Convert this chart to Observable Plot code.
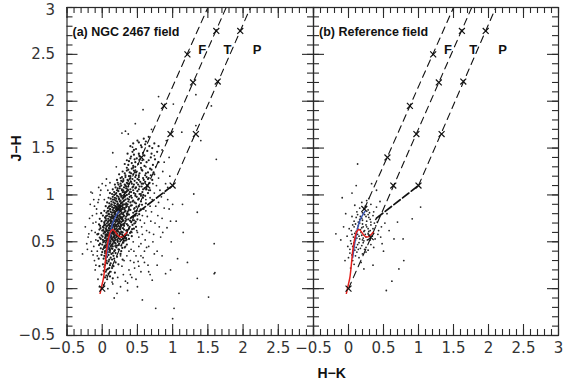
<!DOCTYPE html>
<html><head><meta charset="utf-8">
<script src="https://cdn.jsdelivr.net/npm/d3@7"></script>
<script src="https://cdn.jsdelivr.net/npm/@observablehq/plot@0.6"></script>
<style>
body{margin:0;background:#fff;}
#wrap{position:relative;width:564px;height:390px;overflow:hidden;background:#fff;}
#wrap svg{position:absolute;top:0;}
</style></head><body><div id="wrap"></div>
<script>
// ---------- data (H-K, J-H) ----------
const leftCore = [
[0.04,0.12],[0.09,0.16],[0.02,0.19],[0.12,0.18],[0.06,0.14],[0.15,0.11],[0.07,0.10],[0.11,0.13],[0.18,0.17],[-0.01,0.15],[0.05,0.18],
[0.03,0.23],[0.08,0.21],[0.11,0.25],[0.05,0.28],[0.14,0.22],[0.01,0.26],[0.09,0.29],[0.16,0.24],[0.06,0.20],[0.19,0.28],[0.04,0.25],[0.12,0.27],[-0.04,0.24],[0.10,0.22],[0.23,0.26],[0.07,0.27],
[0.02,0.32],[0.07,0.34],[0.10,0.31],[0.13,0.37],[0.04,0.38],[0.16,0.35],[0.08,0.39],[-0.01,0.36],[0.12,0.33],[0.19,0.38],[0.03,0.35],[0.09,0.36],[0.14,0.31],[0.06,0.30],[0.21,0.34],[-0.05,0.32],[0.11,0.39],[0.17,0.32],[0.26,0.37],[0.00,0.39],[0.15,0.38],[0.05,0.33],[0.29,0.31],
[0.01,0.42],[0.06,0.41],[0.09,0.44],[0.13,0.43],[0.17,0.40],[0.03,0.45],[0.08,0.42],[0.20,0.44],[0.11,0.41],[-0.02,0.43],[0.23,0.42],[0.15,0.45],[0.05,0.44],[0.27,0.40],[0.10,0.43],[0.18,0.41],[0.04,0.40],[0.12,0.45],[0.32,0.44],
[0.00,0.47],[0.05,0.49],[0.07,0.46],[0.11,0.48],[0.14,0.47],[0.18,0.49],[0.21,0.46],[0.24,0.48],[0.02,0.50],[0.06,0.47],[0.09,0.49],[0.13,0.46],[0.16,0.50],[0.19,0.48],[0.27,0.46],[-0.03,0.48],[0.08,0.45],[0.12,0.50],[0.15,0.48],[0.30,0.49],[0.04,0.46],[0.22,0.50],[0.10,0.47],[0.35,0.47],
[0.01,0.52],[0.04,0.54],[0.06,0.51],[0.10,0.53],[0.12,0.55],[0.15,0.52],[0.18,0.54],[0.22,0.51],[0.25,0.53],[0.28,0.55],[-0.02,0.53],[0.05,0.55],[0.08,0.52],[0.11,0.51],[0.14,0.54],[0.17,0.51],[0.20,0.55],[0.23,0.54],[0.31,0.51],[0.34,0.54],[0.03,0.51],[0.09,0.55],[0.13,0.53],[0.16,0.55],[0.07,0.53],[0.19,0.52],[0.27,0.52],[0.38,0.53],[-0.06,0.51],
[-0.01,0.57],[0.02,0.59],[0.05,0.56],[0.08,0.58],[0.11,0.57],[0.14,0.59],[0.17,0.56],[0.20,0.58],[0.24,0.57],[0.26,0.59],[0.30,0.56],[0.33,0.58],[0.37,0.57],[0.04,0.60],[0.07,0.57],[0.10,0.59],[0.13,0.56],[0.16,0.58],[0.19,0.60],[0.22,0.56],[0.25,0.58],[0.28,0.60],[0.12,0.58],[0.09,0.56],[0.18,0.57],[0.15,0.60],[0.06,0.58],[0.21,0.59],[0.35,0.60],[0.42,0.56],[-0.07,0.58],
[0.00,0.62],[0.03,0.61],[0.06,0.63],[0.09,0.62],[0.12,0.64],[0.15,0.61],[0.18,0.63],[0.21,0.62],[0.24,0.64],[0.27,0.61],[0.31,0.63],[0.34,0.62],[0.38,0.64],[0.41,0.61],[0.02,0.65],[0.05,0.64],[0.08,0.60],[0.11,0.62],[0.14,0.65],[0.17,0.60],[0.20,0.64],[0.23,0.61],[0.26,0.65],[0.29,0.60],[0.13,0.63],[0.16,0.62],[0.19,0.61],[0.10,0.64],[0.22,0.63],[0.07,0.62],[-0.04,0.63],[0.45,0.64],
[0.01,0.66],[0.04,0.68],[0.07,0.67],[0.10,0.69],[0.13,0.66],[0.16,0.68],[0.19,0.67],[0.22,0.69],[0.25,0.66],[0.28,0.68],[0.31,0.67],[0.35,0.69],[0.39,0.66],[0.43,0.68],[0.03,0.70],[0.06,0.66],[0.09,0.68],[0.12,0.70],[0.15,0.67],[0.18,0.69],[0.21,0.66],[0.24,0.70],[0.27,0.67],[0.30,0.69],[0.14,0.68],[0.17,0.66],[0.20,0.68],[0.23,0.67],[0.11,0.67],[0.26,0.69],[-0.03,0.67],[0.48,0.66],
[0.03,0.71],[0.06,0.73],[0.09,0.72],[0.12,0.74],[0.15,0.71],[0.18,0.73],[0.21,0.72],[0.24,0.74],[0.27,0.71],[0.30,0.73],[0.33,0.72],[0.37,0.74],[0.41,0.71],[0.45,0.73],[0.05,0.75],[0.08,0.71],[0.11,0.73],[0.14,0.75],[0.17,0.72],[0.20,0.74],[0.23,0.71],[0.26,0.75],[0.29,0.72],[0.32,0.70],[0.16,0.73],[0.19,0.71],[0.22,0.73],[0.25,0.72],[0.13,0.72],[0.28,0.74],[-0.01,0.72],[0.50,0.74],
[0.04,0.76],[0.07,0.78],[0.10,0.77],[0.13,0.79],[0.16,0.76],[0.19,0.78],[0.22,0.77],[0.25,0.79],[0.28,0.76],[0.31,0.78],[0.34,0.77],[0.38,0.79],[0.42,0.76],[0.47,0.78],[0.09,0.80],[0.12,0.76],[0.15,0.78],[0.18,0.80],[0.21,0.76],[0.24,0.78],[0.27,0.80],[0.30,0.77],[0.33,0.75],[0.20,0.79],[0.23,0.75],[0.17,0.77],[0.26,0.77],[0.14,0.77],[0.01,0.78],[0.36,0.80],
[0.06,0.81],[0.09,0.83],[0.12,0.82],[0.15,0.84],[0.18,0.81],[0.21,0.83],[0.24,0.82],[0.27,0.84],[0.30,0.81],[0.33,0.83],[0.36,0.82],[0.40,0.84],[0.44,0.81],[0.49,0.83],[0.11,0.85],[0.14,0.81],[0.17,0.83],[0.20,0.85],[0.23,0.81],[0.26,0.83],[0.29,0.85],[0.32,0.82],[0.35,0.80],[0.19,0.82],[0.25,0.84],[0.22,0.84],[0.03,0.83],[0.38,0.85],
[0.08,0.86],[0.11,0.88],[0.14,0.87],[0.17,0.89],[0.20,0.86],[0.23,0.88],[0.26,0.87],[0.29,0.89],[0.32,0.86],[0.35,0.88],[0.38,0.87],[0.42,0.89],[0.46,0.86],[0.13,0.90],[0.16,0.86],[0.19,0.88],[0.22,0.90],[0.25,0.86],[0.28,0.88],[0.31,0.90],[0.34,0.87],[0.24,0.89],[0.27,0.85],[0.21,0.87],[0.05,0.88],[0.52,0.88],
[0.10,0.91],[0.13,0.93],[0.16,0.92],[0.19,0.94],[0.22,0.91],[0.25,0.93],[0.28,0.92],[0.31,0.94],[0.34,0.91],[0.37,0.93],[0.40,0.92],[0.44,0.94],[0.15,0.95],[0.18,0.91],[0.21,0.93],[0.24,0.95],[0.27,0.91],[0.30,0.93],[0.33,0.95],[0.36,0.90],[0.26,0.94],[0.29,0.90],[0.07,0.92],[0.48,0.91],
[0.12,0.96],[0.15,0.98],[0.18,0.97],[0.21,0.99],[0.24,0.96],[0.27,0.98],[0.30,0.97],[0.33,0.99],[0.36,0.96],[0.39,0.98],[0.42,0.97],[0.47,0.99],[0.17,1.00],[0.20,0.96],[0.23,0.98],[0.26,1.00],[0.29,0.96],[0.32,0.98],[0.35,1.00],[0.28,0.99],[0.09,0.97],[0.52,0.96],
[0.14,1.01],[0.17,1.03],[0.20,1.02],[0.23,1.04],[0.26,1.01],[0.29,1.03],[0.32,1.02],[0.35,1.04],[0.38,1.01],[0.41,1.03],[0.45,1.02],[0.50,1.04],[0.22,1.05],[0.25,1.01],[0.28,1.05],[0.31,1.00],[0.34,1.03],[0.37,1.05],[0.11,1.02],[0.55,1.01],
[0.15,1.06],[0.19,1.08],[0.22,1.07],[0.25,1.09],[0.28,1.06],[0.31,1.08],[0.34,1.07],[0.37,1.09],[0.40,1.06],[0.43,1.08],[0.47,1.07],[0.53,1.09],[0.27,1.10],[0.30,1.05],[0.33,1.10],[0.36,1.06],[0.58,1.06],
[0.18,1.11],[0.22,1.13],[0.26,1.12],[0.29,1.14],[0.32,1.11],[0.35,1.13],[0.38,1.12],[0.41,1.14],[0.45,1.11],[0.49,1.13],[0.56,1.12],[0.30,1.15],[0.37,1.15],[0.61,1.14],
[0.21,1.16],[0.26,1.18],[0.30,1.17],[0.33,1.19],[0.36,1.16],[0.40,1.18],[0.43,1.17],[0.47,1.19],[0.52,1.16],[0.58,1.18],[0.38,1.20],[0.65,1.17],
[0.24,1.22],[0.29,1.25],[0.33,1.21],[0.37,1.27],[0.41,1.23],[0.44,1.29],[0.48,1.24],[0.52,1.21],[0.56,1.27],[0.62,1.23],[0.35,1.29],[0.45,1.26],[0.68,1.28],[0.39,1.24],[0.74,1.22],
[0.32,1.33],[0.38,1.36],[0.44,1.31],[0.49,1.39],[0.55,1.34],[0.60,1.42],[0.41,1.41],[0.52,1.44],[0.66,1.37],[0.72,1.32],[0.47,1.35],[0.36,1.44],[0.80,1.35],
[0.45,1.48],[0.55,1.53],[0.62,1.57],[0.71,1.50],[0.50,1.58],[0.78,1.46],[0.40,1.52]
];
const leftCoreFill = [
[0.025,0.435],[0.065,0.455],[0.105,0.415],[0.145,0.425],[0.185,0.455],[0.235,0.465],[0.285,0.435],[-0.045,0.465],
[0.015,0.495],[0.055,0.515],[0.095,0.505],[0.135,0.525],[0.175,0.535],[0.215,0.525],[0.255,0.505],[0.295,0.535],[0.335,0.515],[-0.035,0.545],
[0.005,0.555],[0.045,0.575],[0.085,0.565],[0.125,0.595],[0.165,0.585],[0.205,0.565],[0.245,0.595],[0.285,0.575],[0.325,0.565],[0.395,0.595],[-0.055,0.585],
[0.015,0.625],[0.055,0.615],[0.095,0.645],[0.135,0.635],[0.175,0.645],[0.215,0.615],[0.255,0.635],[0.295,0.645],[0.355,0.625],[0.425,0.635],[-0.025,0.645],
[0.025,0.675],[0.065,0.695],[0.105,0.665],[0.145,0.695],[0.185,0.675],[0.225,0.695],[0.265,0.675],[0.305,0.685],[0.365,0.675],[0.455,0.695],[-0.045,0.685],
[0.045,0.725],[0.085,0.745],[0.125,0.715],[0.165,0.745],[0.205,0.735],[0.245,0.715],[0.285,0.745],[0.345,0.735],[0.395,0.725],[0.475,0.715],[-0.035,0.745],
[0.055,0.775],[0.095,0.795],[0.135,0.765],[0.175,0.795],[0.215,0.785],[0.255,0.765],[0.295,0.795],[0.355,0.785],[0.445,0.775],[0.525,0.795],[-0.015,0.805],
[0.075,0.825],[0.115,0.845],[0.155,0.815],[0.195,0.845],[0.235,0.835],[0.275,0.815],[0.315,0.845],[0.375,0.835],[0.465,0.825],[0.545,0.845],
[0.095,0.875],[0.135,0.895],[0.175,0.865],[0.215,0.895],[0.255,0.885],[0.295,0.865],[0.335,0.895],[0.405,0.885],[0.485,0.875],[0.565,0.895],
[0.46,0.92],[0.51,0.95],[0.55,0.93],[0.58,0.97],[0.62,0.91],[0.49,0.98],[0.53,1.01],[0.57,1.03],[0.61,0.99],[0.65,1.02],[0.44,1.05],[0.48,1.08],[0.52,1.06],[0.56,1.09],[0.60,1.07],[0.64,1.10],[0.68,1.05],[0.42,1.12],[0.46,1.15],[0.50,1.17],[0.54,1.14],[0.59,1.16],[0.63,1.19],[0.67,1.13],[0.71,1.16],[0.40,1.20],[0.44,1.22],[0.49,1.25],[0.53,1.23],[0.57,1.26],[0.61,1.21],[0.65,1.24],[0.70,1.27],[0.32,1.23],[0.28,1.19],[0.35,1.26],[0.42,1.28],[0.47,1.30],[0.55,1.29],[0.60,1.31],[0.38,0.95],[0.41,0.99],[0.43,0.93],[0.39,1.03],[0.47,1.01],[0.51,1.11],[0.44,1.09],[0.36,1.12],[0.39,1.17],[0.34,1.09],[0.31,1.03],[0.25,1.07],[0.21,1.05],[0.19,1.01],[0.17,0.95],[0.23,1.11],[0.27,1.15],[0.55,0.99],[0.58,1.12],[0.66,1.18],[0.63,1.06],[0.69,1.21],[0.73,1.24],[0.52,1.19],[0.48,1.21],
[0.37,1.32],[0.42,1.34],[0.46,1.38],[0.51,1.33],[0.57,1.37],[0.63,1.35],[0.69,1.40],[0.75,1.38],[0.40,1.39],[0.45,1.43],[0.53,1.41],[0.58,1.45],[0.64,1.47],[0.70,1.44],[0.48,1.49],[0.56,1.51],[0.61,1.54],[0.67,1.52],[0.74,1.55],[0.52,1.56],[0.44,1.55],[0.59,1.60],[0.66,1.62],[0.80,1.52],[0.35,1.37],[0.43,1.46]
];
const leftHalo = [
[-0.12,0.45],[-0.15,0.62],[-0.09,0.71],[-0.20,0.55],[-0.07,0.40],[-0.11,0.30],[-0.08,0.85],[-0.14,0.78],[-0.06,0.92],[-0.03,1.00],[-0.10,0.20],[-0.06,0.10],[-0.24,0.66],[-0.17,0.90],[-0.28,0.37],[-0.19,0.585],[-0.16,1.03],[-0.05,1.08],[0.00,1.12],[0.03,0.95],[-0.09,0.52],[-0.13,0.36],[-0.22,0.48],[-0.04,0.02],[0.02,0.04],
[-0.10,0.60],[-0.13,0.70],[-0.16,0.50],[-0.08,0.80],[-0.11,0.88],[-0.05,0.95],[-0.18,0.75],[-0.07,0.35],[-0.09,0.25],[-0.21,0.42],[-0.12,0.95],[-0.02,1.05],[0.05,1.10],[0.08,1.05],[-0.15,0.40],[-0.06,0.58],
[0.50,0.60],[0.55,0.48],[0.60,0.70],[0.48,0.35],[0.52,0.55],[0.57,0.78],[0.63,0.62],[0.45,0.28],[0.41,0.42],[0.38,0.20],[0.66,0.45],[0.70,0.82],[0.73,0.58],[0.58,0.33],[0.62,0.95],[0.68,0.88],[0.75,0.70],[0.80,0.92],[0.85,0.75],[0.78,0.40],[0.88,1.02],[0.83,0.55],[0.92,0.65],[0.55,0.18],[0.48,0.10],[0.36,0.06],[0.30,0.15],[0.26,0.02],[0.42,0.12],[0.65,0.25],[0.71,0.09],[0.76,-0.21],[0.57,-0.12],[0.50,0.02],[0.90,0.16],[1.02,-0.21],[1.00,-0.32],[1.09,-0.05],[1.51,-0.09],[1.35,0.11],[1.59,0.16],[1.21,0.28],[1.07,0.32],[0.78,0.25],[1.59,0.48],[1.35,0.815],[1.14,0.90],[1.30,1.01],[0.98,0.50],[1.05,0.72],[0.95,0.85],[1.15,0.60],[0.60,0.40],[0.44,0.50],[0.47,0.70],[0.53,0.90],[0.58,1.00],[0.66,1.05],[0.72,1.12],[0.80,1.18],[0.86,1.25],[0.93,1.08],[0.62,1.30],[0.74,1.42],[0.17,-0.10],[0.14,0.07],[0.36,-0.02],[0.40,0.30],[0.33,0.45],[0.52,0.24],[0.85,0.35],[0.68,0.15],[0.97,0.20],
[0.45,0.40],[0.52,0.45],[0.49,0.62],[0.56,0.66],[0.61,0.52],[0.67,0.60],[0.54,0.73],[0.59,0.85],[0.64,0.77],[0.71,0.95],[0.76,0.88],[0.69,0.72],[0.82,1.05],[0.77,1.10],[0.84,0.98],[0.63,0.44],[0.72,0.50],[0.55,0.35],[0.46,0.22],[0.40,0.15],[0.33,0.08],[0.28,0.24],[0.35,0.35],[0.60,0.28],[0.81,0.66],[0.88,0.86],[0.93,0.95],[0.74,0.37],[0.66,0.18],[0.51,0.29],[0.42,0.60],[0.45,0.85],[0.50,0.78],[0.57,0.58],[0.62,0.83],[0.68,0.97],[0.74,1.02],[0.79,0.78],[0.86,0.60],[0.97,0.72],[1.00,0.90],[0.90,1.12],[0.96,1.20],[0.88,1.35],[0.76,1.30],[0.22,0.12],[0.31,0.30],[0.38,0.40],[0.26,0.35],[0.15,0.05],[0.08,0.00],[0.21,-0.05],
[1.33,2.07],[1.55,1.95],[1.33,1.74],[1.40,1.58],[1.62,1.38],[1.01,1.97],[0.80,2.05],[0.58,1.91],[0.47,1.76],[0.37,1.65],[0.28,1.66],[1.13,1.67],[0.91,1.58],[0.33,1.68],[0.43,1.51],[-0.14,1.02],[0.11,1.13],[0.06,1.17],[0.85,1.48],[0.95,1.40],[0.70,1.70],[0.20,1.30],[0.15,1.45],[1.60,0.17]
];
const rightStars = [
[0.03,0.22],[0.06,0.30],[0.10,0.35],[0.02,0.38],[0.15,0.33],[0.08,0.26],[0.12,0.39],[0.20,0.37],[0.05,0.36],[0.18,0.28],[0.00,0.33],[0.25,0.39],
[0.02,0.42],[0.06,0.45],[0.09,0.41],[0.13,0.47],[0.17,0.43],[0.21,0.49],[0.25,0.44],[0.04,0.48],[0.11,0.44],[0.15,0.49],[0.19,0.46],[0.28,0.41],[0.32,0.47],[0.08,0.49],[0.23,0.42],[-0.01,0.45],[0.36,0.44],[0.14,0.42],
[0.03,0.51],[0.07,0.55],[0.10,0.52],[0.13,0.58],[0.16,0.53],[0.19,0.57],[0.22,0.51],[0.25,0.55],[0.28,0.59],[0.31,0.52],[0.34,0.56],[0.38,0.53],[0.42,0.58],[0.05,0.58],[0.09,0.59],[0.12,0.54],[0.15,0.56],[0.18,0.60],[0.21,0.54],[0.24,0.58],[0.27,0.52],[0.30,0.57],[0.46,0.55],[-0.02,0.56],[0.36,0.59],[0.20,0.52],
[0.04,0.62],[0.08,0.66],[0.11,0.61],[0.14,0.67],[0.17,0.63],[0.20,0.69],[0.23,0.62],[0.26,0.66],[0.29,0.61],[0.32,0.68],[0.35,0.64],[0.39,0.67],[0.43,0.62],[0.10,0.69],[0.13,0.64],[0.16,0.70],[0.19,0.65],[0.22,0.61],[0.25,0.68],[0.28,0.64],[0.31,0.62],[0.47,0.66],[0.06,0.68],[0.37,0.70],[0.21,0.66],[0.01,0.64],
[0.08,0.72],[0.11,0.76],[0.14,0.71],[0.17,0.77],[0.20,0.73],[0.23,0.79],[0.26,0.72],[0.29,0.76],[0.32,0.71],[0.35,0.78],[0.39,0.74],[0.44,0.77],[0.13,0.79],[0.19,0.75],[0.25,0.77],[0.31,0.74],[0.05,0.77],[0.28,0.79],[0.16,0.74],[0.41,0.71],
[0.12,0.82],[0.16,0.86],[0.20,0.81],[0.24,0.88],[0.28,0.84],[0.32,0.90],[0.36,0.82],[0.19,0.92],[0.26,0.94],[0.40,0.87],[0.09,0.89],[0.30,0.81],[0.22,0.85],[0.45,0.93],
[0.13,1.33],[0.11,1.10],[-0.09,0.97],[-0.18,0.585],[-0.11,0.52],[0.79,0.30],[0.72,0.21],[0.54,-0.02],[0.62,0.08],[0.91,0.745],[1.03,0.87],[0.70,0.71],[0.78,0.53],[0.65,0.53],[0.22,0.21],[0.29,0.96],[0.40,1.05],[0.05,1.02],[0.55,0.80],[0.58,0.62],[0.50,0.40],[0.35,0.25],[-0.05,0.30],[-0.04,0.80],[0.52,0.70],[0.48,0.48],[-0.07,0.66],[0.33,1.12]
];
// intrinsic loci
const dwarfLocus = [[-0.03,-0.05],[0.00,0.05],[0.02,0.12],[0.04,0.25],[0.06,0.40],[0.08,0.50],[0.10,0.57],[0.12,0.61],[0.15,0.63],[0.18,0.61],[0.22,0.57],[0.26,0.55],[0.30,0.56],[0.35,0.60]];
const giantLocus = [[0.06,0.33],[0.08,0.44],[0.10,0.53],[0.12,0.61],[0.15,0.70],[0.19,0.77],[0.24,0.83]];
const cttsLocus = [[0.40,0.752],[1.00,1.10]];
// reddening vectors (crosses every Av = 5 mag)
const fCrosses = [[0.226,0.85],[0.556,1.40],[0.877,1.95],[1.21,2.50]];
const tCrosses = [[0.00,0.00],[0.317,0.55],[0.64,1.10],[0.97,1.65],[1.29,2.20],[1.62,2.75]];
const pCrosses = [[1.00,1.10],[1.33,1.65],[1.64,2.21],[1.96,2.75]];
const fVector = [[0.226,0.85],[1.50,3.0]];
const tVector = [[0.00,0.00],[1.76,3.0]];
const pVector = [[1.00,1.10],[2.105,3.0]];
const regionLabels = [{name:"F",hk:1.42,jh:2.55},{name:"T",hk:1.78,jh:2.55},{name:"P",hk:2.20,jh:2.55}];
const majorTicks = [-0.5,0,0.5,1,1.5,2,2.5,3];
const minorTicks = d3.range(-5,31).map(i=>i/10);
const leftXLabels = [-0.5,0,0.5,1,1.5,2,2.5];
const rightXLabels = [-0.5,0,0.5,1,1.5,2,2.5,3];
const yLabels = [-0.5,0,0.5,1,1.5,2,2.5];
const yTopLabel = [3];
const panelTitles = ["(a) NGC 2467 field","(b) Reference field"];

// ---------- drawing ----------
const H = 390, MT = 7, MB = 55, PH = H - MT - MB;
const fmt = d => d < 0 ? "\u2212" + Math.abs(d) : String(d);
const TICK = 11, MINOR = 6, INK = "#2a2a2a";

function panel({dense, sparse, title, width, ml, mr, xLabels, showY, extra}) {
  const PW = width - ml - mr;
  const P = d => d[0], Q = d => d[1];
  const marks = [
    Plot.dot(dense, {x: P, y: Q, r: 1.1, fill: "#1c1c1c", stroke: null}),
    Plot.dot(sparse, {x: P, y: Q, r: 0.9, fill: "#262626", stroke: null}),
    Plot.line(fVector, {x: P, y: Q, stroke: "#111", strokeWidth: 1.1, strokeDasharray: "7,5", clip: true}),
    Plot.line(tVector, {x: P, y: Q, stroke: "#111", strokeWidth: 1.1, strokeDasharray: "7,5", clip: true}),
    Plot.line(pVector, {x: P, y: Q, stroke: "#111", strokeWidth: 1.1, strokeDasharray: "7,5", clip: true}),
    Plot.line(cttsLocus, {x: P, y: Q, stroke: "#111", strokeWidth: 1.7, strokeDasharray: "8,3"}),
    Plot.line(giantLocus, {x: P, y: Q, stroke: "#3b55b0", strokeWidth: 1.5, curve: "catmull-rom"}),
    Plot.line(dwarfLocus, {x: P, y: Q, stroke: "#e3201b", strokeWidth: 1.5, curve: "catmull-rom"}),
    Plot.dot([...fCrosses, ...tCrosses, ...pCrosses], {x: P, y: Q, symbol: "times", r: 2.8, stroke: "#111", strokeWidth: 1.2}),
    Plot.text(regionLabels, {x: "hk", y: "jh", text: "name", fontWeight: "bold", fontSize: 13, fontFamily: "Liberation Sans", fill: "#111"}),
    Plot.text([title], {frameAnchor: "top-left", dx: 5.5, dy: 20, textAnchor: "start", fontWeight: "bold", fontSize: 12.5, fontFamily: "Liberation Sans", fill: "#111"}),
    Plot.frame({stroke: INK, strokeWidth: 1.2}),
    Plot.tickX(minorTicks, {x: d => d, insetTop: PH - MINOR, stroke: INK, strokeWidth: 1.1}),
    Plot.tickX(majorTicks, {x: d => d, insetTop: PH - TICK, stroke: INK, strokeWidth: 1.1}),
    Plot.tickX(minorTicks, {x: d => d, insetBottom: PH - MINOR, stroke: INK, strokeWidth: 1.1}),
    Plot.tickX(majorTicks, {x: d => d, insetBottom: PH - TICK, stroke: INK, strokeWidth: 1.1}),
    Plot.tickY(minorTicks, {y: d => d, insetRight: PW - MINOR, stroke: INK, strokeWidth: 1.1}),
    Plot.tickY(majorTicks, {y: d => d, insetRight: PW - TICK, stroke: INK, strokeWidth: 1.1}),
    Plot.tickY(minorTicks, {y: d => d, insetLeft: PW - MINOR, stroke: INK, strokeWidth: 1.1}),
    Plot.tickY(majorTicks, {y: d => d, insetLeft: PW - TICK, stroke: INK, strokeWidth: 1.1}),
    Plot.text(xLabels, {x: d => d, text: fmt, frameAnchor: "bottom", dy: 17, fontSize: 15, fontFamily: "DejaVu Sans", fill: "#333"})
  ];
  if (showY) {
    marks.push(Plot.text(yLabels, {y: d => d, text: fmt, frameAnchor: "left", dx: -12, textAnchor: "end", fontSize: 15, fontFamily: "DejaVu Sans", fill: "#333"}));
    marks.push(Plot.text(yTopLabel, {y: d => d, text: fmt, frameAnchor: "left", dx: -12, dy: 2.5, textAnchor: "end", fontSize: 15, fontFamily: "DejaVu Sans", fill: "#333"}));
  }
  if (extra) marks.push(...extra);
  return Plot.plot({
    width, height: H, marginTop: MT, marginBottom: MB, marginLeft: ml, marginRight: mr,
    x: {domain: [-0.5, 3], axis: null},
    y: {domain: [-0.5, 3], axis: null},
    style: {background: "transparent", overflow: "visible"},
    marks
  });
}

const wrap = document.getElementById("wrap");
const left = panel({dense: [...leftCore, ...leftCoreFill], sparse: leftHalo, title: panelTitles[0], width: 313, ml: 66.5, mr: 0, xLabels: leftXLabels, showY: true,
  extra: [Plot.text(["J\u2212H"], {frameAnchor: "left", dx: -50, dy: -10, rotate: -90, fontWeight: "bold", fontSize: 14, fontFamily: "Liberation Sans", fill: "#111"})]});
left.style.left = "0px";
const right = panel({dense: [], sparse: rightStars, title: panelTitles[1], width: 271, ml: 20, mr: 6, xLabels: rightXLabels, showY: false,
  extra: [Plot.text(["H\u2212K"], {frameAnchor: "bottom-left", dx: 4, dy: 42, fontWeight: "bold", fontSize: 14, fontFamily: "Liberation Sans", fill: "#111"})]});
right.style.left = "293px";
wrap.appendChild(left);
wrap.appendChild(right);
</script></body></html>
